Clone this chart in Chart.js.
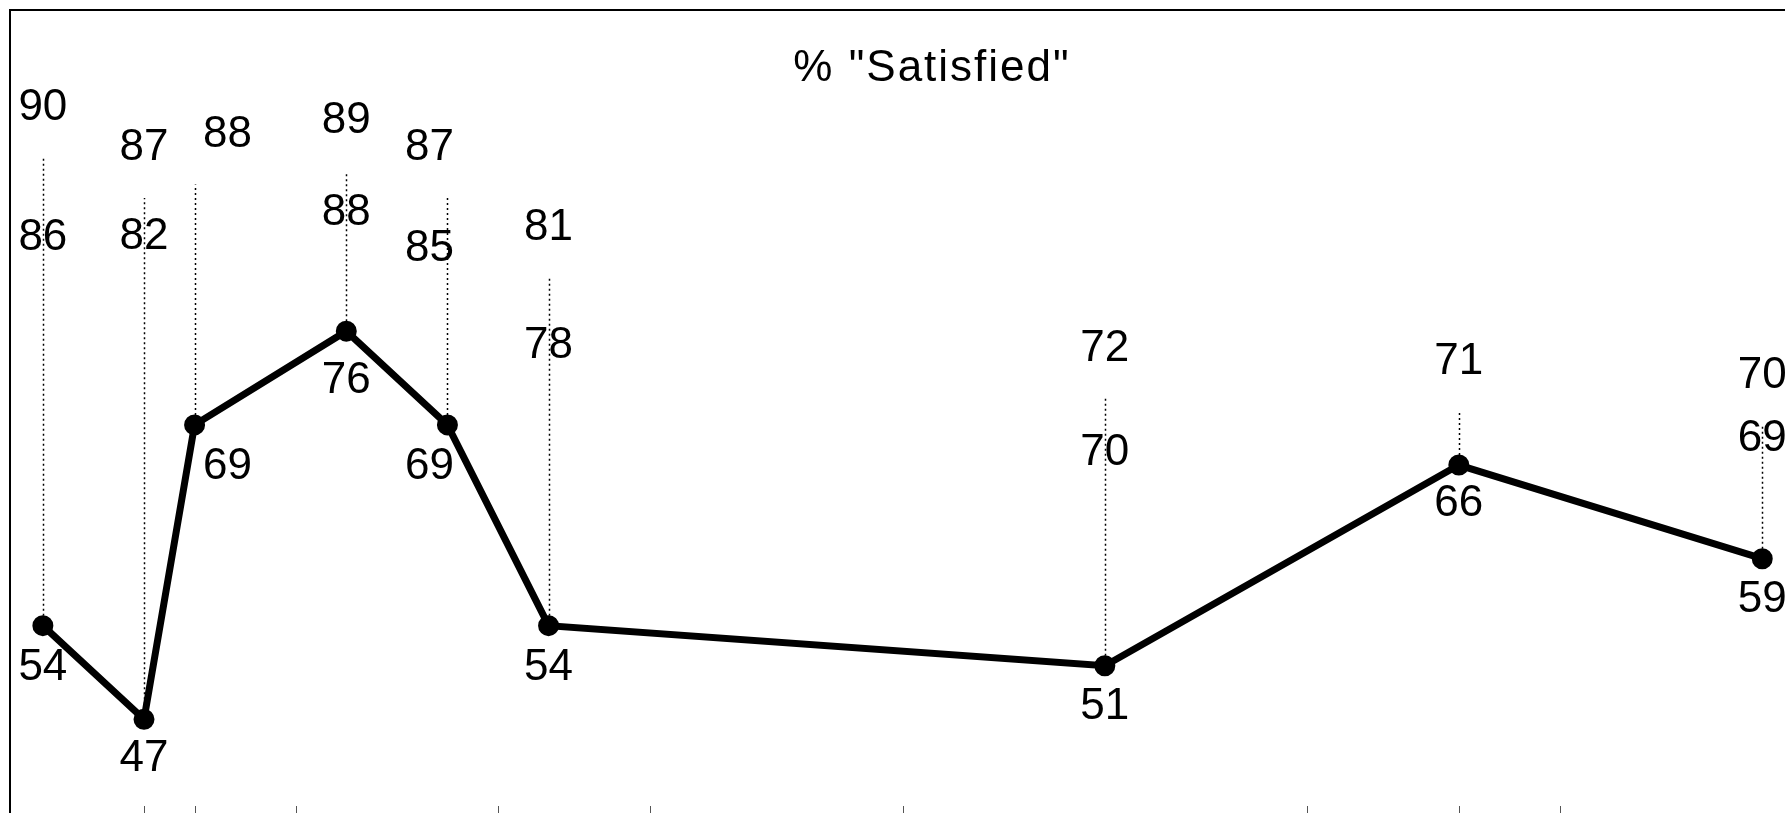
<!DOCTYPE html>
<html>
<head>
<meta charset="utf-8">
<script src="https://cdn.jsdelivr.net/npm/chart.js@4/dist/chart.umd.min.js"></script>
<style>
  html, body { margin: 0; padding: 0; background: #fff; }
  canvas { display: block; }
</style>
</head>
<body>
<canvas id="satisfiedChart" width="1785" height="813"></canvas>
<script>
// months since first survey (x positions of the surveys)
const months = [0, 2, 3, 6, 8, 10, 21, 28, 34];
// upper label rows (their lines are not visible in the picture)
const highValues = [90, 87, 88, 89, 87, 81, 72, 71, 70];
const midValues = [86, 82, null, 88, 85, 78, 70, null, 69];
// plotted line: % "Satisfied"
const satisfiedValues = [54, 47, 69, 76, 69, 54, 51, 66, 59];
// small tick marks along the bottom edge
const bottomTicks = [2, 3, 5, 9, 12, 17, 25, 28, 30];

// label nudges (pixels) so the numbers don't collide
const labelDx = [0, 0, 33, 0, -18, 0, 0, 0, 0];
const midDy = [40, -14, 40, 42, 38, 41, 41, 40, 14];
const lowDy = [42, 40, 42, 50, 42, 42, 41, 39, 41];

function points(values) {
    return months.map((m, i) => ({ x: m, y: values[i] }));
}

const labelFont = '44px "Liberation Sans", Arial, sans-serif';

const overlay = {
    id: 'overlay',
    beforeDatasetsDraw(chart) {
        const ctx = chart.ctx;
        const xs = chart.scales.x, ys = chart.scales.y;
        ctx.save();
        // high-low dotted lines
        ctx.strokeStyle = '#000';
        ctx.lineWidth = 1.5;
        ctx.setLineDash([2, 3]);
        months.forEach((m, i) => {
            const x = Math.round(xs.getPixelForValue(m)) + 0.5;
            ctx.beginPath();
            ctx.moveTo(x, ys.getPixelForValue(satisfiedValues[i]));
            ctx.lineTo(x, ys.getPixelForValue(highValues[i]) + 14);
            ctx.stroke();
        });
        ctx.restore();
    },
    afterDatasetsDraw(chart) {
        const ctx = chart.ctx;
        const xs = chart.scales.x, ys = chart.scales.y;
        const area = chart.chartArea;
        ctx.save();

        // frame (left and top)
        ctx.strokeStyle = '#000';
        ctx.lineWidth = 2;
        ctx.beginPath();
        ctx.moveTo(area.left, chart.height);
        ctx.lineTo(area.left, area.top);
        ctx.lineTo(chart.width, area.top);
        ctx.stroke();

        // bottom tick marks
        ctx.lineWidth = 1;
        ctx.strokeStyle = '#555';
        bottomTicks.forEach(t => {
            const x = Math.round(xs.getPixelForValue(t)) + 0.5;
            ctx.beginPath();
            ctx.moveTo(x, chart.height - 7);
            ctx.lineTo(x, chart.height);
            ctx.stroke();
        });

        // value labels
        ctx.fillStyle = '#000';
        ctx.font = labelFont;
        ctx.textAlign = 'center';
        ctx.textBaseline = 'middle';
        months.forEach((m, i) => {
            const x = xs.getPixelForValue(m) + labelDx[i];
            ctx.fillText(String(highValues[i]), x, ys.getPixelForValue(highValues[i]) - 36);
            if (midValues[i] !== null) {
                ctx.fillText(String(midValues[i]), x, ys.getPixelForValue(midValues[i]) + midDy[i]);
            }
            ctx.fillText(String(satisfiedValues[i]), x, ys.getPixelForValue(satisfiedValues[i]) + lowDy[i]);
        });

        // title
        ctx.font = '44px "Liberation Sans", Arial, sans-serif';
        ctx.letterSpacing = '2px';
        ctx.fillText('% "Satisfied"', 932, 69);
        ctx.restore();
    }
};

new Chart(document.getElementById('satisfiedChart').getContext('2d'), {
    type: 'line',
    data: {
        datasets: [{
            label: 'High',
            data: points(highValues),
            showLine: false,
            pointRadius: 0
        }, {
            label: 'Mid',
            data: points(midValues),
            showLine: false,
            pointRadius: 0
        }, {
            label: '% "Satisfied"',
            data: points(satisfiedValues),
            borderColor: '#000',
            borderWidth: 7,
            pointRadius: 7,
            pointBackgroundColor: '#000',
            pointBorderColor: '#000',
            tension: 0
        }]
    },
    options: {
        responsive: false,
        animation: false,
        layout: { autoPadding: false, padding: { top: 10, left: 10, right: 0, bottom: 0 } },
        plugins: {
            legend: { display: false },
            tooltip: { enabled: false },
            title: { display: false }
        },
        scales: {
            x: { type: 'linear', min: -0.65, max: 34.45, display: false },
            y: { min: 40, max: 100, display: false }
        }
    },
    plugins: [overlay]
});
</script>
</body>
</html>
